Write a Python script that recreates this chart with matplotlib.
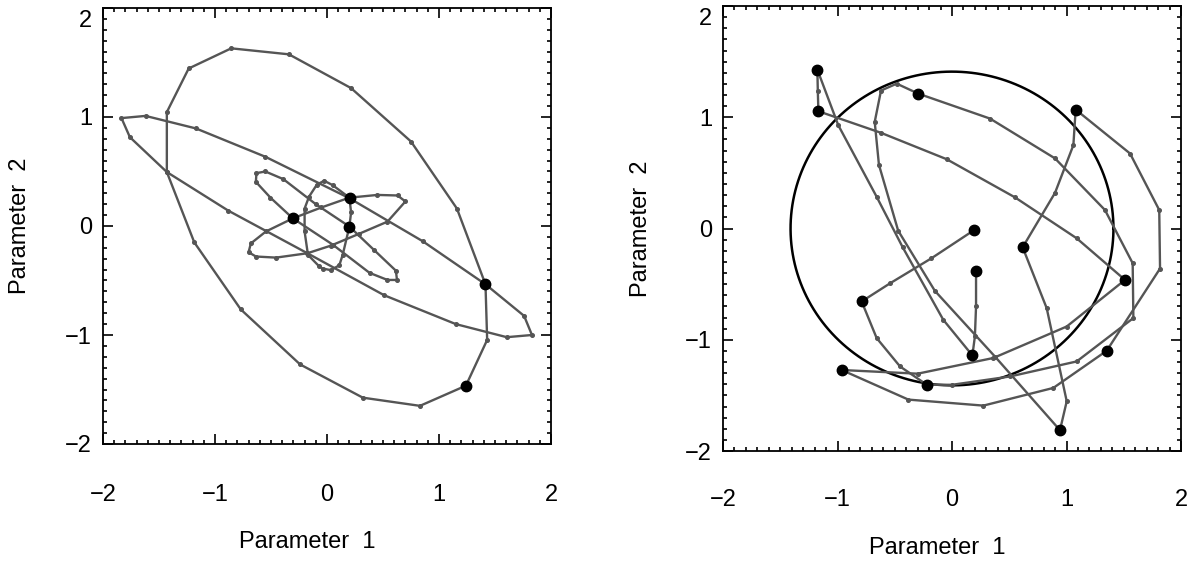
import numpy as np
import matplotlib
matplotlib.use("Agg")
import matplotlib.pyplot as plt
from matplotlib.ticker import MultipleLocator, FuncFormatter

# ---- left panel: closed orbits, each a list of (x, y)
left_big = [(1.24, -1.465), (0.83, -1.65), (0.32, -1.575), (-0.24, -1.27), (-0.77, -0.765),
            (-1.185, -0.15), (-1.43, 0.495), (-1.43, 1.045), (-1.235, 1.445), (-0.855, 1.63),
            (-0.34, 1.575), (0.215, 1.265), (0.75, 0.775), (1.16, 0.16), (1.415, -0.535),
            (1.43, -1.045), (1.24, -1.465)]
left_thin = [(1.415, -0.535), (1.76, -0.825), (1.83, -1.0), (1.605, -1.02), (1.15, -0.9),
             (0.51, -0.635), (-0.175, -0.25), (-0.88, 0.14), (-1.43, 0.495), (-1.76, 0.815),
             (-1.835, 0.99), (-1.62, 1.01), (-1.17, 0.895), (-0.55, 0.635), (0.2, 0.255),
             (0.855, -0.14), (1.415, -0.535)]
left_flat = [(-0.305, 0.07), (-0.05, 0.17), (0.2, 0.26), (0.45, 0.285), (0.63, 0.28),
             (0.7, 0.225), (0.54, 0.04), (0.29, -0.07), (0.035, -0.18), (-0.175, -0.25),
             (-0.455, -0.29), (-0.635, -0.28), (-0.7, -0.24), (-0.68, -0.16), (-0.545, -0.05),
             (-0.305, 0.07)]
left_tilt = [(0.2, -0.005), (0.42, -0.22), (0.615, -0.41), (0.625, -0.495), (0.54, -0.495),
             (0.38, -0.43), (0.05, -0.17), (-0.305, 0.07), (-0.505, 0.26), (-0.635, 0.405),
             (-0.63, 0.485), (-0.55, 0.5), (-0.39, 0.43), (-0.1, 0.2), (0.2, -0.005)]
left_vert = [(0.2, 0.26), (0.215, 0.125), (0.2, -0.005), (0.14, -0.265), (0.11, -0.36),
             (0.035, -0.405), (-0.04, -0.39), (-0.07, -0.37), (-0.17, -0.265), (-0.2, -0.05),
             (-0.2, 0.16), (-0.16, 0.27), (-0.09, 0.38), (-0.025, 0.415), (0.05, 0.375),
             (0.2, 0.26)]
left_paths = [left_big, left_thin, left_flat, left_tilt, left_vert]
left_starts = [(0.205, 0.255), (-0.3, 0.07), (0.2, -0.005), (1.415, -0.535), (1.24, -1.465)]

# ---- right panel: one chain of trajectories between samples (black dots)
right_chain = [
    [(0.195, -0.013), (-0.18, -0.268), (-0.54, -0.492), (-0.789, -0.656)],
    [(-0.789, -0.656), (-0.658, -0.985), (-0.454, -1.24), (-0.221, -1.404)],
    [(-0.221, -1.404), (0.0, -1.405), (0.507, -1.33), (1.089, -1.195), (1.584, -0.805),
     (1.578, -0.312), (1.336, 0.166), (0.9, 0.63), (0.332, 0.988), (-0.294, 1.212)],
    [(-0.294, 1.212), (-0.483, 1.302), (-0.62, 1.24), (-0.675, 0.958), (-0.638, 0.572),
     (-0.47, -0.02), (-0.15, -0.56), (0.376, -1.152), (0.943, -1.813)],
    [(0.943, -1.813), (1.002, -1.553), (0.827, -0.716), (0.617, -0.169)],
    [(0.617, -0.169), (0.9, 0.321), (1.06, 0.749), (1.08, 1.069)],
    [(1.08, 1.069), (1.555, 0.674), (1.81, 0.166), (1.817, -0.36), (1.351, -1.099)],
    [(1.351, -1.099), (0.885, -1.433), (0.274, -1.592), (-0.381, -1.538), (-0.963, -1.272)],
    [(-0.963, -1.272), (-0.3, -1.305), (0.361, -1.164), (1.002, -0.881), (1.511, -0.462)],
    [(1.511, -0.462), (1.089, -0.088), (0.55, 0.28), (-0.047, 0.623), (-0.62, 0.86),
     (-1.167, 1.054)],
    [(-1.167, 1.054), (-1.172, 1.24), (-1.176, 1.428)],
    [(-1.176, 1.428), (-0.993, 0.928), (-0.658, 0.285), (-0.43, -0.17), (-0.076, -0.821),
     (0.178, -1.141)],
    [(0.178, -1.141), (0.2, -0.97), (0.21, -0.7), (0.21, -0.381)],
]
right_samples = [(0.195, -0.013), (-0.789, -0.656), (-0.221, -1.404), (-0.294, 1.212),
                 (0.943, -1.813), (0.617, -0.169), (1.08, 1.069), (1.351, -1.099),
                 (-0.963, -1.272), (1.511, -0.462), (-1.167, 1.054), (-1.176, 1.428),
                 (0.178, -1.141), (0.21, -0.381)]
circle_r = 1.41
top_label = "2"

gray = "#555555"
plt.rcParams["font.family"] = ["Liberation Sans", "DejaVu Sans"]

fig = plt.figure(figsize=(11.94, 5.65), dpi=100)
ax1 = fig.add_axes([103 / 1194, 121 / 565, 448 / 1194, 436 / 565])
ax2 = fig.add_axes([723 / 1194, 114 / 565, 458 / 1194, 445 / 565])


def ylab(v, pos):
    # the top label is drawn separately, a bit lower
    if v > 1.5:
        return ""
    return f"{v:g}".replace("-", "\u2212")


def style(ax, xpad):
    ax.set_xlim(-2, 2)
    ax.set_ylim(-2, 2)
    ax.xaxis.set_major_locator(MultipleLocator(1))
    ax.yaxis.set_major_locator(MultipleLocator(1))
    ax.xaxis.set_minor_locator(MultipleLocator(0.1))
    ax.yaxis.set_minor_locator(MultipleLocator(0.1))
    ax.yaxis.set_major_formatter(FuncFormatter(ylab))
    ax.tick_params(which="both", direction="in", top=True, right=True, width=1.2,
                   labelsize=17)
    ax.tick_params(which="major", length=7)
    ax.tick_params(which="minor", length=3.2)
    ax.tick_params(axis="x", pad=xpad)
    ax.tick_params(axis="y", pad=8)
    for s in ax.spines.values():
        s.set_linewidth(1.3)
    ax.set_xlabel("Parameter  1", fontsize=17)
    ax.set_ylabel("Parameter  2", fontsize=17)
    ax.annotate(top_label, xy=(0, 1), xycoords="axes fraction", xytext=(-8, -9.5),
                textcoords="offset points", ha="right", va="center", fontsize=17)


def draw_path(ax, pts):
    xs = [p[0] for p in pts]
    ys = [p[1] for p in pts]
    ax.plot(xs, ys, "-", color=gray, lw=1.7, marker="o", ms=2.6, mfc=gray, mec=gray, zorder=2)


for p in left_paths:
    draw_path(ax1, p)
ax1.plot([p[0] for p in left_starts], [p[1] for p in left_starts], "o", color="black",
         ms=7.5, zorder=3)

t = np.linspace(0, 2 * np.pi, 400)
ax2.plot(circle_r * np.cos(t), circle_r * np.sin(t), color="black", lw=1.8, zorder=1)
for p in right_chain:
    draw_path(ax2, p)
ax2.plot([p[0] for p in right_samples], [p[1] for p in right_samples], "o", color="black",
         ms=7.5, zorder=3)

style(ax1, 29)
style(ax2, 27)
ax1.xaxis.set_label_coords(0.455, -0.2)
ax2.xaxis.set_label_coords(0.467, -0.193)
ax1.yaxis.set_label_coords(-0.16, 0.5)
ax2.yaxis.set_label_coords(-0.155, 0.5)

fig.savefig("out.png", dpi=100)
